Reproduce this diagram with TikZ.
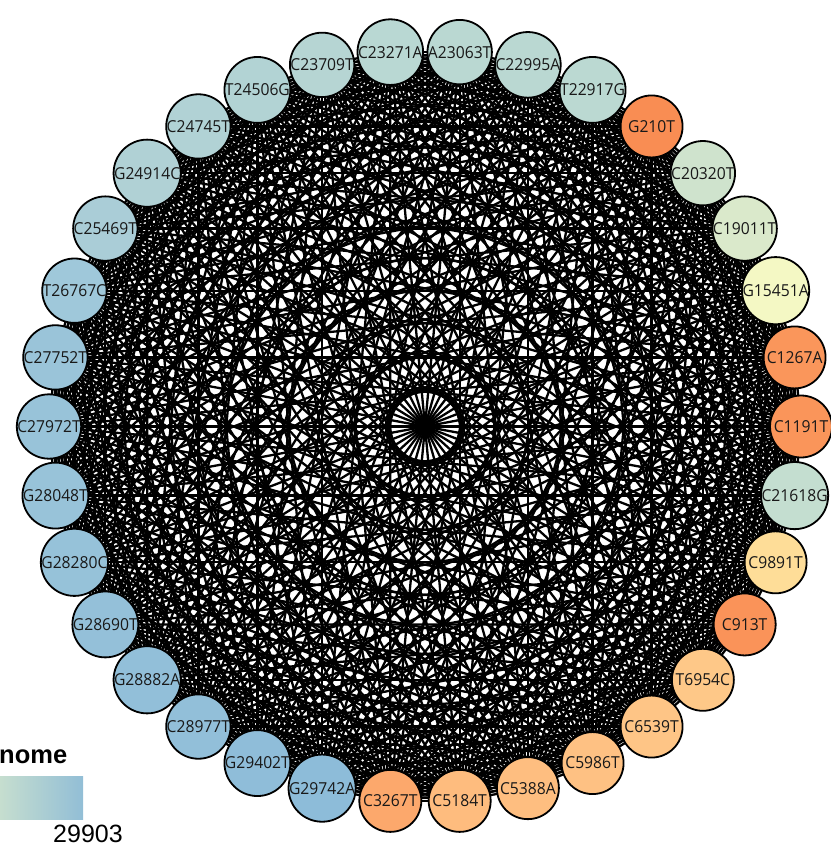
\documentclass[tikz,border=0pt]{standalone}
\usepackage{fontspec}
\setsansfont[FakeStretch=0.95]{Open Sans}
\newfontfamily\legfont{Liberation Sans}
\usetikzlibrary{backgrounds}
\begin{document}
\begin{tikzpicture}[x=1pt,y=-1pt,
  gnode/.style={circle, draw=black, line width=1.8pt, minimum size=62pt, inner sep=0pt,
    font=\sffamily\fontsize{16.5}{16.5}\selectfont, text=black!90},
  edgeline/.style={line width=2.3pt, black},
  legtext/.style={inner sep=0pt, text=black}]
\useasboundingbox (0,0) rectangle (830,848);
\foreach \k/\lab/\r/\g/\b in {
  1/A23063T/186/216/210, 2/C22995A/186/216/210, 3/T22917G/187/217/210,
  4/G210T/249/141/83, 5/C20320T/207/227/205, 6/C19011T/218/233/203,
  7/G15451A/244/248/196, 8/C1267A/250/150/91, 9/C1191T/250/149/90,
  10/C21618G/196/222/208, 11/C9891T/254/221/152, 12/C913T/250/147/89,
  13/T6954C/254/200/136, 14/C6539T/254/197/134, 15/C5986T/254/193/131,
  16/C5388A/254/190/128, 17/C5184T/254/188/126, 18/C3267T/252/168/108,
  19/G29742A/141/188/217, 20/G29402T/143/189/217, 21/C28977T/146/191/217,
  22/G28882A/146/191/217, 23/G28690T/148/192/217, 24/G28280C/150/194/217,
  25/G28048T/152/195/217, 26/C27972T/152/195/217, 27/C27752T/154/196/217,
  28/T26767C/159/200/218, 29/C25469T/170/205/215, 30/G24914C/176/209/213,
  31/C24745T/177/210/213, 32/T24506G/178/211/212, 33/C23709T/182/213/211,
  34/C23271A/185/216/211}{
  \pgfmathsetmacro\ang{(9-\k)*360/34}
  \definecolor{nc\k}{RGB}{\r,\g,\b}
  \node[gnode, fill=nc\k] (n\k) at ({425+376*cos(\ang)},{426.5-376*sin(\ang)}) {\lab};
}
\begin{scope}[on background layer]
\foreach \i in {1,...,33}{
  \pgfmathtruncatemacro\s{\i+1}
  \foreach \j in {\s,...,34}{
    \draw[edgeline] (n\i.center) -- (n\j.center);
  }
}
\end{scope}
% legend
\definecolor{legleft}{RGB}{198,222,207}
\definecolor{legright}{RGB}{146,190,214}
\shade[left color=legleft, right color=legright] (0,776) rectangle (83,819);
\node[legtext, anchor=base west, font=\legfont\bfseries\fontsize{25.5}{25.5}\selectfont] (legtitle) at (-1,763) {nome};
\node[legtext, anchor=base, font=\legfont\fontsize{25}{25}\selectfont] (legmax) at (88,842) {29903};
\end{tikzpicture}
\end{document}
